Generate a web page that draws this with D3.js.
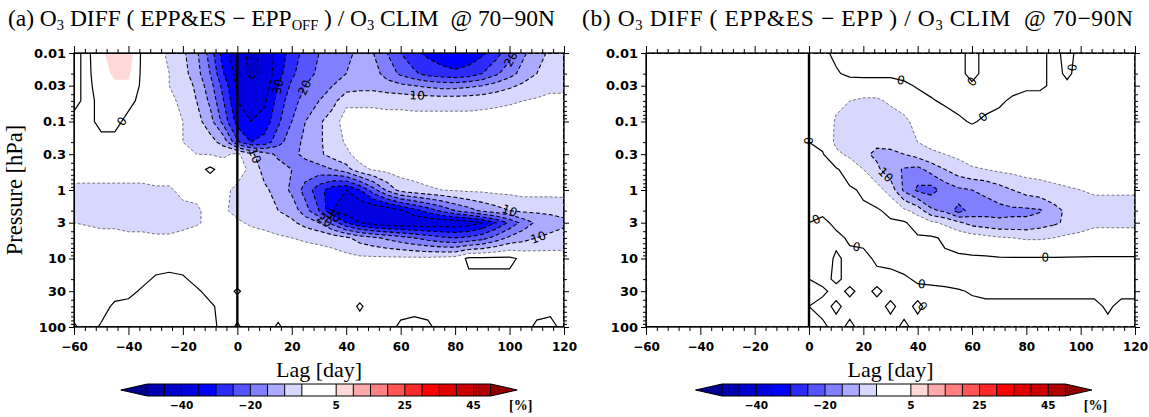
<!DOCTYPE html>
<html>
<head>
<meta charset="utf-8">
<script src="https://cdn.jsdelivr.net/npm/d3@7"></script>
<style>
  body { margin: 0; background: #fff; }
  svg text { white-space: pre; }
</style>
</head>
<body>
<svg id="fig" width="1149" height="417"></svg>
<script>
// grid of the field: lag (days) and pressure levels (hPa), rows top -> bottom
const lags = [-60,-55,-50,-45,-40,-35,-30,-25,-20,-15,-10,-5,0,5,10,15,20,25,30,35,40,45,50,55,60,65,70,75,80,85,90,95,100,105,110,115,120];
const levels = [0.01,0.02,0.03,0.05,0.1,0.2,0.3,0.5,1,2,3,5,10,20,30,50,100];

// (a) O3 DIFF (EPP&ES - EPP_OFF) / O3 CLIM [%]
const diffA = [
  [1,-1,4,8,8,-1,-3,-6,-9,-14,-22,-33,-38,-41,-39,-33,-28,-23,-20,-18,-16,-14,-15,-20,-25,-29,-31,-33,-34,-33,-31,-27,-22,-16,-12,-9,-8],
  [1,-1,3,6,6,-1,-3,-5,-8,-13,-20,-30,-37,-41,-39,-32,-26,-22,-19,-17,-15,-13,-13,-17,-21,-24,-27,-28,-29,-28,-25,-21,-17,-13,-10,-8,-7],
  [1,-1,2,4,4,-1,-3,-5,-7,-11,-18,-27,-36,-39,-38,-30,-24,-20,-17,-15,-13,-12,-12,-13,-14,-15,-16,-17,-17,-16,-15,-13,-11,-9,-7,-6,-6],
  [1,-1,1,1,1,-1,-3,-4,-6,-10,-16,-25,-35,-39,-36,-28,-22,-18,-15,-12,-6,-6,-6,-6.5,-6.5,-7,-7,-7,-7,-7,-6.5,-6,-5.5,-5,-4.5,-4,-4],
  [-1,-1,1,1,-1,-1,-2,-3,-5,-8,-13,-22,-32,-35,-33,-26,-20,-15,-11,-7,-3,-3,-3,-3,-3,-3,-3,-3,-3,-3,-3,-3,-3,-3,-3,-3,-3],
  [-1,-1,-1,-1,-1,-1,-1,-2,-5,-6,-8,-12,-24,-30,-28,-22,-17,-14,-11,-7,-4.5,-2,-2,-2,-2,-2,-2,-2,-2,-2,-2,-2,-2,-2,-2,-2,-2],
  [-1,-1,-1,-1,-1,-1,-1,-2,-4,-5,-5.2,-6,-4,-9,-13,-16,-16,-14,-11,-8,-6,-3,-3,-2,-2,-2,-2,-2,-2,-2,-2,-2,-2,-2,-2,-2,-2],
  [-3,-3,-3,-3,-3,-3,-3,-3,-2,-2,1,-2,-3,-6,-12,-13,-15,-17,-17,-15,-12,-6.5,-4.5,-3.5,-3,-3,-3,-3,-3,-3,-3,-3,-3,-3,-3,-3,-3],
  [-6,-6,-6,-6,-6,-6,-5.5,-5.5,-4,-4,-4,-4,-6,-7,-9,-12,-16,-22,-28,-33,-35,-30,-22,-14,-8,-6.5,-5.5,-5,-4.5,-4,-4,-3.5,-3.5,-3,-3,-3,-3],
  [-7,-7,-7,-7,-7,-7,-7,-7,-6,-5.5,-4,-4.5,-6,-7,-8,-10,-12,-18,-25,-35,-38,-40,-40,-39,-36,-32,-28,-24,-20,-17,-14,-12,-10,-9,-9,-9,-8.5],
  [-5,-5.5,-6,-6,-6.5,-6.5,-6.5,-6.5,-6,-5.5,-4,-4,-4.5,-5.5,-6,-7,-9,-12,-15,-22,-30,-35,-38,-39,-39.5,-39.5,-39.5,-39,-39,-38,-35,-30,-24,-18,-14,-12,-11],
  [-3,-3,-3.5,-3.5,-4,-4,-4.5,-4.5,-4,-3,-2,-2,-3,-3.5,-4,-4.5,-5,-5.5,-6,-7,-9,-12,-14,-16,-18,-20,-22,-24,-25,-24,-22,-18,-14,-12,-10,-9,-8],
  [-1,-1,-1.5,-1.5,-2,-2,-2,-2,-2,-1.5,-1,-1,-1.5,-2,-2,-2.5,-2.5,-3,-3,-3,-3.5,-4,-4,-4,-4,-4,-4,-3.5,-3,1,1,1,1,-1,-2,-2.5,-3],
  [-1,-1,-1,-1,-1,-1,0.5,1,0.5,-1,-1,-1,-1,-1,-1,-1,-1,-1,-1,-1,-1,-1,-1,-1,-1,-1,-1,-1,-1,-1,-1,-1,-1,-1,-1,-1,-1],
  [-1,-1,-1,-1,-1,0.5,1,1,1,0.5,-1,-1,0.3,-1,-1,-1,-1,-1,-1,-1,-1,-1,-1,-1,-1,-1,-1,-1,-1,-1,-1,-1,-1,-1,-1,-1,-1],
  [-1,-1,-1,0.5,1,1,1,1,1,1,0.5,-1,-1,-1,-1,-1,-1,-1,-1,-1,-1,0.3,-1,-1,-1,-1,-1,-1,-1,-1,-1,-1,-1,-1,-1,-1,-1],
  [0.3,-1,0.3,1,1,1,1,1,1,1,1,-1,0.3,-1,-1,0.3,-1,-1,-1,-1,-1,-1,-1,-1,0.5,1,0.5,-1,-1,-1,-1,-1,-1,-1,0.5,1,-1]
];

// (b) O3 DIFF (EPP&ES - EPP) / O3 CLIM [%]
const diffB = [
  [0,0,0,0,0,0,0,0,0,0,0,0,0,-1,1,2,2,2,2,2,2,2,1,1,-1,1,2,2,1,1,-1,1,-1,-1,-1,-1,-1],
  [0,0,0,0,0,0,0,0,0,0,0,0,0,-1,-0.5,1,1.5,1.5,1,1.5,2,2,1,1,-1,1,1.5,1.5,1,1,-1,0.5,-1,-1,-1,-1,-1],
  [0,0,0,0,0,0,0,0,0,0,0,0,0,-1.5,-2,-2.5,-3,-3,-2,-1,0.5,1,1,1,0.5,1,1,1,0.5,0.5,-0.5,-0.5,-1,-1,-1,-1,-1],
  [0,0,0,0,0,0,0,0,0,0,0,0,0,-1.5,-4,-5,-5.5,-5.5,-4.5,-3,-2,-0.3,0.5,1,1,1,0.5,-0.5,-1,-1,-1,-1,-1,-1,-1,-1,-1],
  [0,0,0,0,0,0,0,0,0,0,0,0,0,-2,-5.5,-6.5,-7,-7,-6.5,-6,-3.5,-2,-1.5,-0.5,0.3,-0.5,-1,-1,-1,-1,-1,-1,-1,-1,-1,-1,-1],
  [0,0,0,0,0,0,0,0,0,0,0,0,0,-1,-6,-7,-8.5,-9,-8.5,-7.5,-5,-3.5,-3,-2.5,-2,-1.5,-1.5,-1.5,-1.5,-1.5,-1.5,-1.5,-1.5,-1.5,-1.5,-1.5,-1.5],
  [0,0,0,0,0,0,0,0,0,0,0,0,0,0.3,-4,-6,-9,-11,-11,-10,-8,-6,-5,-4,-3,-2.5,-2,-2,-2,-2,-2,-2,-2,-2,-2,-2,-2],
  [0,0,0,0,0,0,0,0,0,0,0,0,0,1,0.5,-2,-5,-9,-13,-15.5,-16.5,-13,-10,-7,-5.5,-5,-4,-3.5,-3,-3,-3,-2.5,-2.5,-2.5,-2.5,-2.5,-2.5],
  [0,0,0,0,0,0,0,0,0,0,0,0,0,1,1,0.5,-0.5,-3,-7,-16,-21,-22,-18,-16,-15,-14,-12,-10,-8,-7,-6,-5.5,-5,-4.5,-4.5,-4.5,-4.5],
  [0,0,0,0,0,0,0,0,0,0,0,0,0,0.5,1,1,0.5,0.5,-1,-4,-7,-14,-16,-22,-18,-17,-16.5,-16,-16,-15.5,-12,-9,-7.5,-6.5,-6.5,-6.5,-6.5],
  [0,0,0,0,0,0,0,0,0,0,0,0,0,-0.5,0.5,1,1,1,0.5,0.5,-2,-4,-6,-9,-12,-13,-14,-14,-14,-12.5,-11,-9,-7.5,-6,-6,-6,-6],
  [0,0,0,0,0,0,0,0,0,0,0,0,0,-1,-0.5,0.3,0.5,1,1,1,0.5,0.5,-0.5,-1.5,-2.5,-3.5,-4.5,-5,-5.5,-5.5,-5,-4,-3.5,-3,-3,-3,-3],
  [0,0,0,0,0,0,0,0,0,0,0,0,0,-1,0.3,-0.5,-0.5,0.3,0.5,1,1,1,0.5,0.5,0.5,0.5,0.3,0.3,0.3,0.3,0.3,0.3,0.3,0.3,0.3,0.3,0.3],
  [0,0,0,0,0,0,0,0,0,0,0,0,0,-0.5,0.3,-0.5,-0.5,-0.5,-0.5,-0.3,0.3,0.5,0.5,1,1,1,1,1,1,1,1,1,1,1,1,1,1],
  [0,0,0,0,0,0,0,0,0,0,0,0,0,0.3,-0.5,0.3,-0.5,0.3,-0.5,-0.5,-0.5,-0.5,-0.3,-0.2,0.2,0.5,0.5,0.5,0.5,0.5,0.5,0.5,0.5,0.5,0.5,0.5,0.5],
  [0,0,0,0,0,0,0,0,0,0,0,0,0,-0.5,0.3,-0.5,-0.5,-0.5,0.3,-0.5,0.3,-0.5,-0.5,-0.5,-0.5,-0.5,-0.5,-0.5,-0.5,-0.5,-0.5,-0.5,-0.5,-0.5,0.3,-0.5,-0.5],
  [0,0,0,0,0,0,0,0,0,0,0,0,0,0.3,-0.5,0.3,-0.5,-0.5,-0.5,0.3,-0.5,-0.5,-0.5,-0.5,-0.5,-0.5,-0.5,-0.5,-0.5,-0.5,-0.5,-0.5,-0.5,-0.5,-0.5,-0.5,-0.5]
];

// contour levels, colours, ticks
const cnLevels = [-50,-45,-40,-35,-30,-25,-20,-15,-10,-5,5,10,15,20,25,30,35,40,45,50];
const lineLevels = [-45,-40,-35,-30,-25,-20,-15,-10,-5,0];
const fillColors = ["#000090","#0000b0","#0000cc","#0000e0","#0000ff","#2b2bff","#5555ff","#8080ff","#aaaaff","#d8d8ff","#ffffff",
                    "#ffd8d8","#ffaaaa","#ff8080","#ff5555","#ff2b2b","#ff0000","#e00000","#cc0000","#b00000","#900000"];
const cbarBounds = [-50,-45,-40,-35,-30,-25,-20,-15,-10,-5,0,5,10,15,20,25,30,35,40,45,50];
const cbarLabels = [-40,-20,5,25,45];
const lagTicks = [-60,-40,-20,0,20,40,60,80,100,120];
const presTicks = [0.01,0.03,0.1,0.3,1,3,10,30,100];
const presLabels = ["0.01","0.03","0.1","0.3","1","3","10","30","100"];

// contour labels: [lag, hPa, text]
const lineLabelsA = [[15,0.031,"30"],[27,0.035,"20"],[66,0.044,"10"],[101,0.0126,"20"],[8,0.3,"10"],
                     [35,1.8,"20"],[38,1.5,"30"],[100,2.0,"10"],[111,5.5,"10"],[-44,0.09,"0"]];
const lineLabelsB = [[33,0.035,"0"],[60,0.032,"0"],[65,0.095,"0"],[101,0.017,"0"],[1,0.19,"0"],[1,1.9,"0"],
                     [18,5.3,"0"],[25,0.8,"10"],[87,7.9,"0"],[42,16,"0"],[46,44,"0"]];

const titleA = [["(a) O",0],["3",1],[" DIFF ( EPP&ES − EPP",0],["OFF",1],[" ) / O",0],["3",1],[" CLIM  @ 70−90N",0]];
const titleB = [["(b) O",0],["3",1],[" DIFF ( EPP&ES − EPP ) / O",0],["3",1],[" CLIM  @ 70−90N",0]];

const svg = d3.select('#fig');
const yTop = 53, yBot = 327;
const y = d3.scaleLog().domain([0.01, 100]).range([yTop, yBot]);
const nx = lags.length, ny = levels.length;
const serif = "'Liberation Serif', 'Times New Roman', serif";
const sans = "'DejaVu Sans', sans-serif";

// grid coordinates of d3.contours -> data -> pixels
function gridX(x, c) {
  const i = Math.max(0, Math.min(nx - 1, c - 0.5));
  const i0 = Math.min(nx - 2, Math.floor(i)), t = i - i0;
  return x(lags[i0] + t * (lags[i0 + 1] - lags[i0]));
}
function gridY(c) {
  const j = Math.max(0, Math.min(ny - 1, c - 0.5));
  const j0 = Math.min(ny - 2, Math.floor(j)), t = j - j0;
  const lp = Math.log10(levels[j0]) + t * (Math.log10(levels[j0 + 1]) - Math.log10(levels[j0]));
  return y(Math.pow(10, lp));
}

function drawPanel(p) {
  const x = d3.scaleLinear().domain([-60, 120]).range([p.x0, p.x1]);
  const values = p.field.flat();
  const toPx = ([c, r]) => [gridX(x, c), gridY(r)];
  const path = d3.geoPath(d3.geoTransform({
    point(c, r) { const q = toPx([c, r]); this.stream.point(q[0], q[1]); }
  }));

  svg.append('clipPath').attr('id', 'clip-' + p.id)
    .append('rect').attr('x', p.x0).attr('y', yTop).attr('width', p.x1 - p.x0).attr('height', yBot - yTop);
  const plot = svg.append('g').attr('clip-path', `url(#clip-${p.id})`);

  plot.append('rect').attr('x', p.x0).attr('y', yTop).attr('width', p.x1 - p.x0).attr('height', yBot - yTop)
    .attr('fill', fillColors[0]);
  const fills = d3.contours().size([nx, ny]).thresholds(cnLevels)(values);
  plot.selectAll('path.fill').data(fills).join('path')
    .attr('class', 'fill')
    .attr('d', path)
    .attr('fill', d => fillColors[d3.bisectRight(cnLevels, d.value)])
    .attr('fill-rule', 'evenodd');

  const lines = d3.contours().size([nx, ny]).thresholds(lineLevels)(values);
  plot.selectAll('path.line').data(lines).join('path')
    .attr('class', 'line')
    .attr('d', path)
    .attr('fill', 'none')
    .attr('stroke', d => d.value === -5 ? '#555' : '#000')
    .attr('stroke-width', d => d.value === 0 ? 1.2 : (d.value === -5 ? 0.8 : 1.1))
    .attr('stroke-dasharray', d => d.value < 0 ? (d.value === -5 ? '3,2' : '4,2.5') : null);

  // contour labels snapped onto the nearest line of their level
  const onEdge = q => Math.abs(q[0] - p.x0) < 0.01 || Math.abs(q[0] - p.x1) < 0.01 ||
                      Math.abs(q[1] - yTop) < 0.01 || Math.abs(q[1] - yBot) < 0.01;
  p.labels.forEach(([lag, pres, txt]) => {
    const level = txt === '0' ? 0 : -Number(txt);
    const c = lines.find(d => d.value === level);
    const tx = x(lag), ty = y(pres);
    let best = {d: Infinity, x: tx, y: ty, a: 0};
    c.coordinates.forEach(poly => poly.forEach(ring => {
      const pts = ring.map(toPx);
      for (let k = 0; k < pts.length - 1; k++) {
        const a = pts[k], b = pts[k + 1];
        if (onEdge(a) && onEdge(b)) continue;
        const dx = b[0] - a[0], dy = b[1] - a[1], L2 = dx * dx + dy * dy;
        if (L2 === 0) continue;
        let t = ((tx - a[0]) * dx + (ty - a[1]) * dy) / L2;
        t = Math.max(0, Math.min(1, t));
        const qx = a[0] + t * dx, qy = a[1] + t * dy, d = Math.hypot(qx - tx, qy - ty);
        if (d < best.d) best = {d, x: qx, y: qy, a: Math.atan2(dy, dx) * 180 / Math.PI};
      }
    }));
    if (best.d > 20) best = {x: tx, y: ty, a: 0};
    let ang = best.a;
    if (ang > 90) ang -= 180;
    if (ang < -90) ang += 180;
    plot.append('text')
      .attr('transform', `translate(${best.x},${best.y}) rotate(${ang})`)
      .attr('text-anchor', 'middle').attr('dy', '0.35em')
      .style('font-family', sans).style('font-size', '12px')
      .text(txt);
  });

  const g = svg.append('g');
  // lag 0 line
  g.append('line').attr('x1', x(0)).attr('x2', x(0)).attr('y1', yTop).attr('y2', yBot)
    .attr('stroke', '#000').attr('stroke-width', 2.4);

  // axes: major + minor, outward on all sides
  const minorLag = d3.range(-60, 121, 4).filter(v => v % 20 !== 0);
  const minorPres = y.ticks().filter(v => !presTicks.some(t => Math.abs(t - v) / t < 1e-6));
  const fmtLag = d => d < 0 ? '−' + (-d) : String(d);
  const clean = s => { s.select('.domain').remove(); s.selectAll('line').attr('stroke', '#000').attr('stroke-width', 1); };
  const styleText = (s, size) => s.selectAll('text').style('font-family', sans).style('font-weight', 'bold')
    .style('font-size', size).attr('fill', '#000');

  g.append('g').attr('transform', `translate(0,${yBot})`)
    .call(d3.axisBottom(x).tickValues(lagTicks).tickSize(8).tickPadding(7).tickFormat(fmtLag))
    .call(clean).call(s => styleText(s, '12px'));
  g.append('g').attr('transform', `translate(0,${yBot})`)
    .call(d3.axisBottom(x).tickValues(minorLag).tickSize(4).tickFormat('')).call(clean);
  g.append('g').attr('transform', `translate(0,${yTop})`)
    .call(d3.axisTop(x).tickValues(lagTicks).tickSize(7).tickFormat('')).call(clean);
  g.append('g').attr('transform', `translate(0,${yTop})`)
    .call(d3.axisTop(x).tickValues(minorLag).tickSize(4).tickFormat('')).call(clean);
  g.append('g').attr('transform', `translate(${p.x0},0)`)
    .call(d3.axisLeft(y).tickValues(presTicks).tickSize(5).tickPadding(3).tickFormat((d, i) => presLabels[i]))
    .call(clean).call(s => styleText(s, '13px'));
  g.append('g').attr('transform', `translate(${p.x0},0)`)
    .call(d3.axisLeft(y).tickValues(minorPres).tickSize(3).tickFormat('')).call(clean);
  g.append('g').attr('transform', `translate(${p.x1},0)`)
    .call(d3.axisRight(y).tickValues(presTicks).tickSize(5).tickFormat('')).call(clean);
  g.append('g').attr('transform', `translate(${p.x1},0)`)
    .call(d3.axisRight(y).tickValues(minorPres).tickSize(3).tickFormat('')).call(clean);

  g.append('rect').attr('x', p.x0).attr('y', yTop).attr('width', p.x1 - p.x0).attr('height', yBot - yTop)
    .attr('fill', 'none').attr('stroke', '#000').attr('stroke-width', 1.3);

  // titles
  const t = svg.append('text').attr('x', p.titleX).attr('y', 26)
    .attr('textLength', p.titleW).attr('lengthAdjust', 'spacing')
    .style('font-family', serif).style('font-size', '23.5px');
  let prevSub = false;
  p.title.forEach(([s, sub]) => {
    t.append('tspan').text(s)
      .attr('dy', sub ? 4 : (prevSub ? -4 : 0))
      .style('font-size', sub ? '14.5px' : null);
    prevSub = !!sub;
  });
  svg.append('text').attr('x', (p.x0 + p.x1) / 2).attr('y', 377).attr('text-anchor', 'middle')
    .style('font-family', serif).style('font-size', '22px').text('Lag [day]');
  if (p.yTitle) {
    svg.append('text').attr('transform', `translate(22,${(yTop + yBot) / 2}) rotate(-90)`)
      .attr('text-anchor', 'middle')
      .style('font-family', serif).style('font-size', '22.5px').text('Pressure [hPa]');
  }

  // colour bar
  const cb = d3.scaleLinear().domain([-50, 50]).range([p.cbX0, p.cbX0 + 343.4]);
  const cbY = 384, cbH = 12, tri = 26.5;
  const cg = svg.append('g');
  cg.append('path').attr('d', `M${cb(-50)},${cbY} L${cb(-50) - tri},${cbY + cbH / 2} L${cb(-50)},${cbY + cbH} Z`)
    .attr('fill', fillColors[0]);
  cg.append('path').attr('d', `M${cb(50)},${cbY} L${cb(50) + tri},${cbY + cbH / 2} L${cb(50)},${cbY + cbH} Z`)
    .attr('fill', fillColors[20]);
  cg.selectAll('rect.box').data(d3.pairs(cbarBounds)).join('rect')
    .attr('x', d => cb(d[0])).attr('y', cbY).attr('width', d => cb(d[1]) - cb(d[0]) + 0.3).attr('height', cbH)
    .attr('fill', d => fillColors[d3.bisectRight(cnLevels, (d[0] + d[1]) / 2)]);
  cg.selectAll('line.sep').data(cbarBounds.filter(v => v !== 0)).join('line')
    .attr('x1', d => cb(d)).attr('x2', d => cb(d)).attr('y1', cbY).attr('y2', cbY + cbH)
    .attr('stroke', '#000').attr('stroke-width', 1);
  cg.append('path')
    .attr('d', `M${cb(-50)},${cbY} L${cb(50)},${cbY} L${cb(50) + tri},${cbY + cbH / 2} L${cb(50)},${cbY + cbH} ` +
               `L${cb(-50)},${cbY + cbH} L${cb(-50) - tri},${cbY + cbH / 2} Z`)
    .attr('fill', 'none').attr('stroke', '#000').attr('stroke-width', 1);
  cg.selectAll('text.lab').data(cbarLabels).join('text')
    .attr('x', d => cb(d)).attr('y', 409).attr('text-anchor', 'middle')
    .style('font-family', sans).style('font-weight', 'bold').style('font-size', '10.5px')
    .text(d => d < 0 ? '−' + (-d) : d);
  cg.append('text').attr('x', cb(50) + 30).attr('y', 410).attr('text-anchor', 'middle')
    .style('font-family', serif).style('font-weight', 'bold').style('font-size', '14px').text('[%]');
}

drawPanel({id: 'a', x0: 74, x1: 564, field: diffA, labels: lineLabelsA, cbX0: 147.3, title: titleA, titleX: 8, titleW: 547, yTitle: true});
drawPanel({id: 'b', x0: 646, x1: 1135, field: diffB, labels: lineLabelsB, cbX0: 722, title: titleB, titleX: 582, titleW: 551, yTitle: false});
</script>
</body>
</html>
